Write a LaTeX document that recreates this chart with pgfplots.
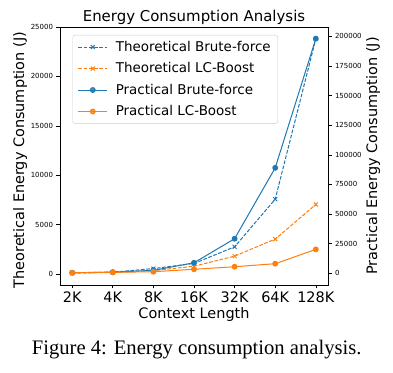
\documentclass[border=0pt]{standalone}
\usepackage{fontspec}
\setmainfont{DejaVu Sans}
\newfontfamily\capfont{Liberation Serif}
\usepackage{pgfplots}
\pgfplotsset{compat=1.18}
\definecolor{tabblue}{HTML}{1F77B4}
\definecolor{taborange}{HTML}{FF7F0E}

\pgfplotstableread{
x tbf tlc pbf plc
0 130 100 500 500
1 200 170 1000 800
2 560 350 2500 1350
3 1080 800 8900 3400
4 2760 1820 29200 5560
5 7580 3540 89000 8100
6 23800 7050 198000 20200
}\energydata

\pgfplotsset{
  common/.style={
    scale only axis, width=268bp, height=258bp,
    at={(60bp,88bp)}, anchor=south west,
    xmin=-0.3, xmax=6.3,
    tick align=outside, major tick length=3.5bp,
    axis line style={line width=0.9bp, black},
    every tick/.style={black, line width=0.6bp},
    scaled y ticks=false,
    yticklabel style={font=\fontsize{7}{8}\selectfont},
  },
  theo/.style={line width=1bp, dash pattern=on 3.7bp off 1.6bp, mark=x, mark size=2.8bp, mark options={solid}},
  prac/.style={line width=1bp, solid, mark=*, mark size=2.4bp},
  every axis title shift=0pt,
}

\begin{document}
\begin{tikzpicture}
\path[use as bounding box] (0,0) rectangle (393bp,373bp);
\begin{axis}[common,
  ymin=-1100, ymax=25000,
  ytick={0,5000,10000,15000,20000,25000},
  yticklabels={0,5000,10000,15000,20000,25000},
  xtick={0,1,2,3,4,5,6},
  xticklabels={2K,4K,8K,16K,32K,64K,128K},
  xticklabel style={font=\fontsize{14.5}{17}\selectfont},
  tick pos=left,
  title={Energy Consumption Analysis},
  title style={font=\fontsize{15}{18}\selectfont, at={(axis description cs:0.5,1)}, anchor=base, yshift=5.5bp},
  xlabel={Context Length},
  xlabel style={font=\fontsize{14.5}{17}\selectfont, at={(axis description cs:0.5,-0.130)}, anchor=base},
  ylabel={Theoretical Energy Consumption (J)},
  ylabel style={font=\fontsize{14.5}{17}\selectfont, at={(axis description cs:-0.149,0.484)}, anchor=center, rotate=0},
]
\addplot[theo, color=tabblue] table[x=x, y=tbf] {\energydata};
\addplot[theo, color=taborange] table[x=x, y=tlc] {\energydata};
\end{axis}
\begin{axis}[common,
  ymin=-9860, ymax=207840,
  ytick={0,25000,50000,75000,100000,125000,150000,175000,200000},
  yticklabels={0,25000,50000,75000,100000,125000,150000,175000,200000},
  axis x line=none,
  axis y line*=right,
  ylabel={Practical Energy Consumption (J)},
  ylabel style={font=\fontsize{14.5}{17}\selectfont, at={(axis description cs:1.168,0.5)}, anchor=center, rotate=0},
  legend style={at={(axis description cs:0.047,0.969)}, anchor=north west,
    draw=black!20, rounded corners=2bp, fill=white, fill opacity=0.8, text opacity=1,
    font=\fontsize{13.5}{16}\selectfont, row sep=5.8bp, inner xsep=5bp, inner ysep=4bp,
    /tikz/every odd column/.append style={column sep=6bp}},
  legend cell align=left,
  legend image code/.code={\draw[mark repeat=2, mark phase=2, #1] plot coordinates {(0bp,0bp) (14.5bp,0bp) (29bp,0bp)};},
]
\addlegendimage{theo, color=tabblue}
\addlegendentry{Theoretical Brute-force}
\addlegendimage{theo, color=taborange}
\addlegendentry{Theoretical LC-Boost}
\addplot[prac, color=tabblue] table[x=x, y=pbf] {\energydata};
\addlegendentry{Practical Brute-force}
\addplot[prac, color=taborange] table[x=x, y=plc] {\energydata};
\addlegendentry{Practical LC-Boost}
\end{axis}
\node[font=\capfont\fontsize{20.7}{24}\selectfont, anchor=base] at (196.7bp,18.7bp) {Figure 4: Energy consumption analysis.};
\end{tikzpicture}
\end{document}
